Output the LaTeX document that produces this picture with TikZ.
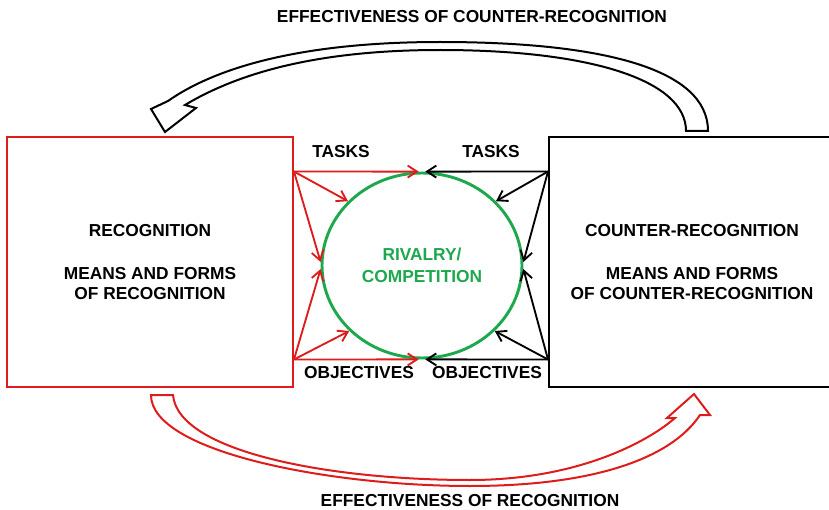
\documentclass[tikz,border=0pt]{standalone}
\usepackage{fontspec}
\setmainfont{Liberation Sans}
\usepackage{tikz}
\usetikzlibrary{arrows.meta, positioning, calc, shapes.geometric}
\usepackage{xcolor}
\definecolor{recred}{RGB}{222,28,28}
\definecolor{rivgreen}{RGB}{30,168,78}

\tikzset{
  sidebox/.style={draw, rectangle, line width=1.5pt, minimum width=214.5pt,
                  minimum height=187.5pt, align=center,
                  font=\bfseries\fontsize{13}{15}\selectfont},
  tag/.style={font=\bfseries\fontsize{13}{15}\selectfont},
  feed/.style={line width=1.4pt, -{Straight Barb[length=7pt,width=9pt]}},
  bigarrow/.style={fill=white, line width=1.5pt, line join=miter}
}

\begin{document}
\begin{tikzpicture}[x=0.75pt, y=-0.75pt]
  \clip (0,0) rectangle (829,510);
  % the two sides
  \node[sidebox, draw=recred] (recog) at (150,262)
       {RECOGNITION\\[17pt]MEANS AND FORMS\\OF RECOGNITION};
  \node[sidebox] (counter) at (692,262)
       {COUNTER-RECOGNITION\\[17pt]MEANS AND FORMS\\OF COUNTER-RECOGNITION};
  % rivalry in the middle
  \node[ellipse, draw=rivgreen, line width=2.2pt, minimum width=150pt,
        minimum height=138.75pt, align=center, text=rivgreen,
        font=\bfseries\fontsize{13}{16.5}\selectfont]
        (rivalry) at (422,265.5) {RIVALRY/\\COMPETITION};
  \coordinate (rt) at (recog.east |- rivalry.north);
  \coordinate (rb) at (recog.east |- rivalry.south);
  \coordinate (ct) at (counter.west |- rivalry.north);
  \coordinate (cb) at (counter.west |- rivalry.south);
  \foreach \a in {92,139,178} \draw[feed, recred] (rt) -- (rivalry.\a);
  \foreach \a in {182,222,268} \draw[feed, recred] (rb) -- (rivalry.\a);
  \foreach \a in {88,41,2} \draw[feed] (ct) -- (rivalry.\a);
  \foreach \a in {358,318,272} \draw[feed] (cb) -- (rivalry.\a);
  \node[tag] (tasksl) at (341,152) {TASKS};
  \node[tag] (tasksr) at (491,152) {TASKS};
  \node[tag] (objl) at (359,373) {OBJECTIVES};
  \node[tag] (objr) at (487,373) {OBJECTIVES};
  % effectiveness loops
  \node[tag] (topttl) at (472,17) {EFFECTIVENESS OF COUNTER-RECOGNITION};
  \node[tag] (botttl) at (470,501) {EFFECTIVENESS OF RECOGNITION};
  \draw[bigarrow] (686,131) -- (708,131)
    .. controls (708,68) and (600,42) .. (440,42)
    .. controls (300,42) and (215,68) .. (168,101)
    -- (151,109) -- (165,132) -- (196,108) -- (185,105)
    .. controls (240,72) and (320,50) .. (440,50)
    .. controls (590,50) and (686,80) .. (686,131) -- cycle;
  \draw[bigarrow, draw=recred] (151,395) -- (173,395)
    .. controls (178,452) and (330,480) .. (470,480)
    .. controls (580,480) and (650,440) .. (675,418)
    -- (667,418) -- (694,394) -- (710,415) -- (700,415)
    .. controls (670,460) and (590,486) .. (470,486)
    .. controls (330,486) and (151,452) .. (151,395) -- cycle;
\end{tikzpicture}
\end{document}
